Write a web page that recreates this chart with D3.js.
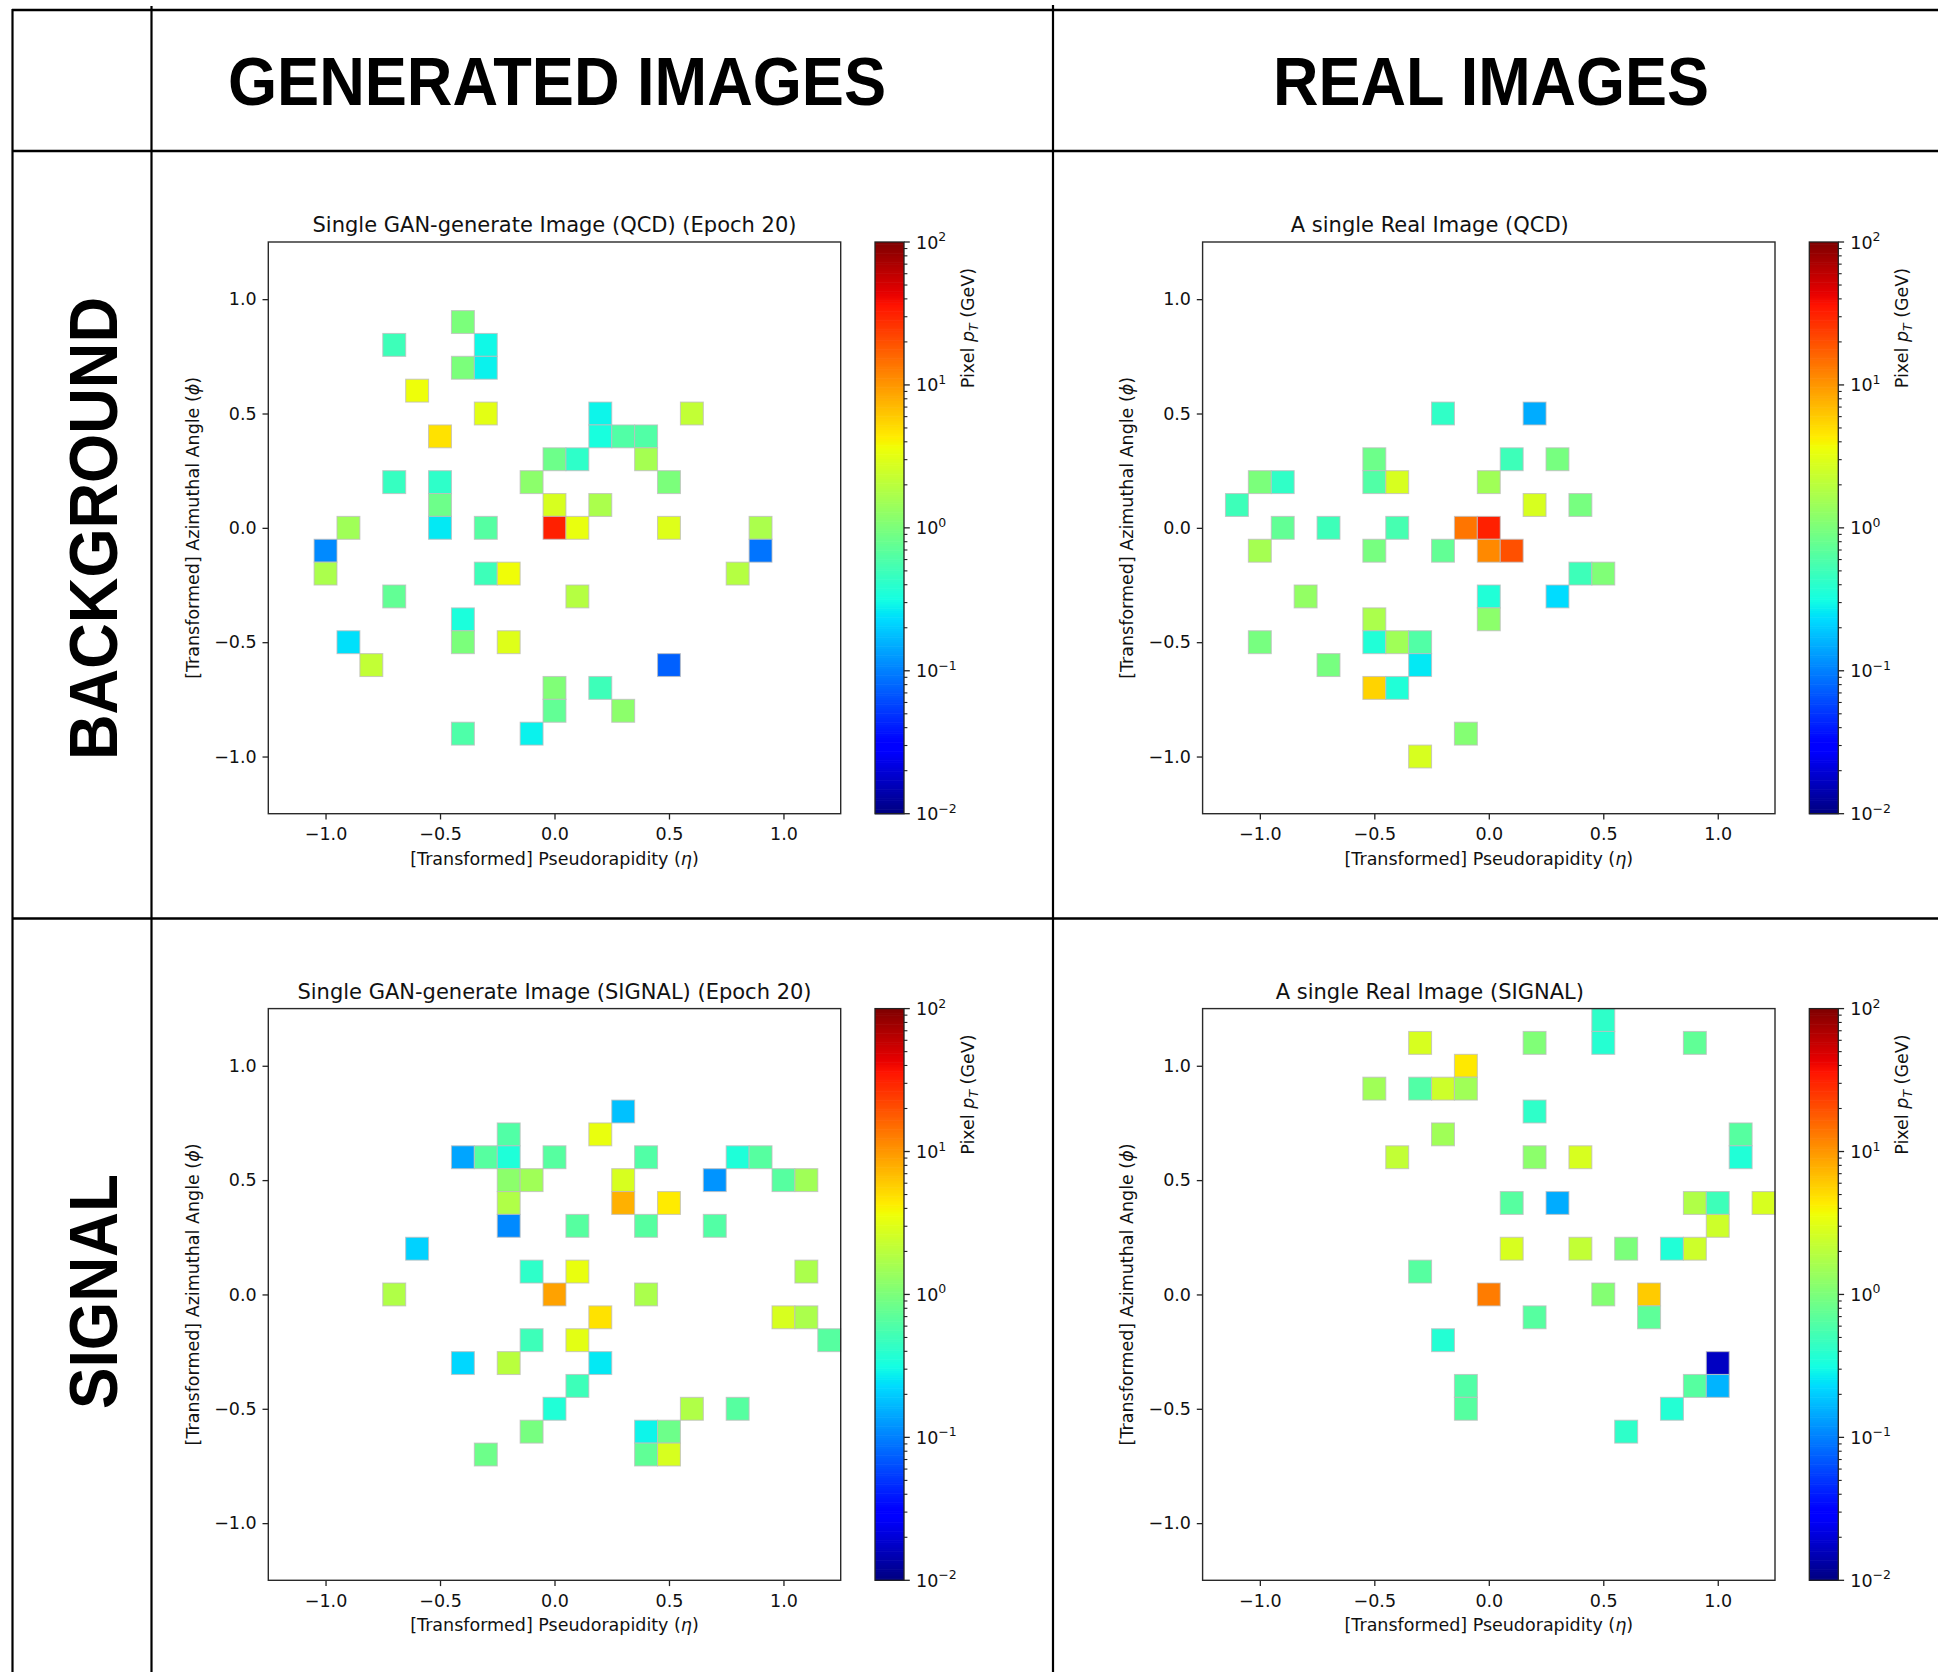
<!DOCTYPE html>
<html>
<head>
<meta charset="utf-8">
<script src="https://cdn.jsdelivr.net/npm/d3@7"></script>
<style>
  html, body { margin: 0; padding: 0; background: #fff; }
  svg { display: block; }
</style>
</head>
<body>
<svg id="fig" width="1938" height="1672"></svg>
<script>
// ---- Data: jet-image pixels as [eta, phi, pT (GeV)] ----
const ganQcd = [
  [-0.4, 0.9, 1.0], [-0.7, 0.8, 0.5], [-0.3, 0.8, 0.3], [-0.4, 0.7, 1.0], [-0.3, 0.7, 0.28],
  [-0.6, 0.6, 3.6], [-0.3, 0.5, 3.2], [0.6, 0.5, 2.2], [-0.5, 0.4, 4.8], [0.2, 0.5, 0.29],
  [0.2, 0.4, 0.33], [0.3, 0.4, 0.62], [0.4, 0.4, 0.62], [0.0, 0.3, 0.85], [0.1, 0.3, 0.42],
  [0.4, 0.3, 1.6], [-0.7, 0.2, 0.46], [-0.5, 0.2, 0.42], [-0.1, 0.2, 1.2], [0.5, 0.2, 1.0],
  [-0.5, 0.1, 0.85], [0.0, 0.1, 2.8], [0.2, 0.1, 1.7], [-0.9, 0.0, 1.5], [-0.5, 0.0, 0.26],
  [-0.3, 0.0, 0.65], [0.0, 0.0, 32], [0.1, 0.0, 3.4], [0.5, 0.0, 3.0], [0.9, 0.0, 1.7],
  [-1.0, -0.1, 0.11], [0.9, -0.1, 0.09], [-1.0, -0.2, 1.7], [-0.3, -0.2, 0.5], [-0.2, -0.2, 3.7],
  [0.8, -0.2, 1.9], [-0.7, -0.3, 0.75], [0.1, -0.3, 1.9], [-0.4, -0.4, 0.34], [-0.9, -0.5, 0.24],
  [-0.4, -0.5, 1.0], [-0.2, -0.5, 3.0], [-0.8, -0.6, 2.2], [0.5, -0.6, 0.075], [0.0, -0.7, 1.05],
  [0.2, -0.7, 0.5], [0.0, -0.8, 0.75], [0.3, -0.8, 1.2], [-0.4, -0.9, 0.6], [-0.1, -0.9, 0.28]
];

const realQcd = [
  [-0.2, 0.5, 0.43], [0.2, 0.5, 0.15], [-0.5, 0.3, 0.85], [0.1, 0.3, 0.5], [0.3, 0.3, 0.95],
  [-1.0, 0.2, 1.0], [-0.9, 0.2, 0.43], [-0.5, 0.2, 0.62], [-0.4, 0.2, 2.8], [0.0, 0.2, 1.5],
  [-1.1, 0.1, 0.5], [0.2, 0.1, 2.8], [0.4, 0.1, 0.95], [-0.9, 0.0, 0.75], [-0.7, 0.0, 0.5],
  [-0.4, 0.0, 0.55], [-0.1, 0.0, 14], [0.0, 0.0, 32], [-1.0, -0.1, 1.6], [-0.5, -0.1, 0.95],
  [-0.2, -0.1, 0.75], [0.0, -0.1, 11.5], [0.1, -0.1, 20], [0.4, -0.2, 0.5], [0.5, -0.2, 1.05],
  [-0.8, -0.3, 1.3], [0.0, -0.3, 0.36], [0.3, -0.3, 0.23], [-0.5, -0.4, 1.7], [0.0, -0.4, 1.2],
  [-1.0, -0.5, 0.95], [-0.5, -0.5, 0.36], [-0.4, -0.5, 1.5], [-0.3, -0.5, 0.62], [-0.7, -0.6, 0.95],
  [-0.3, -0.6, 0.26], [-0.5, -0.7, 5.6], [-0.4, -0.7, 0.36], [-0.1, -0.9, 1.1], [-0.3, -1.0, 2.8]
];

const ganSignal = [
  [0.3, 0.8, 0.18], [-0.2, 0.7, 0.62], [0.2, 0.7, 3.4], [-0.4, 0.6, 0.14], [-0.3, 0.6, 0.66],
  [-0.2, 0.6, 0.35], [0.0, 0.6, 0.66], [0.4, 0.6, 0.62], [0.8, 0.6, 0.35], [0.9, 0.6, 0.66],
  [-0.2, 0.5, 1.2], [-0.1, 0.5, 1.5], [0.3, 0.5, 2.8], [0.7, 0.5, 0.12], [1.0, 0.5, 0.66],
  [1.1, 0.5, 1.5], [-0.2, 0.4, 1.8], [0.3, 0.4, 7.8], [0.5, 0.4, 4.4], [-0.2, 0.3, 0.11],
  [0.1, 0.3, 0.66], [0.4, 0.3, 0.66], [0.7, 0.3, 0.63], [-0.6, 0.2, 0.21], [-0.1, 0.1, 0.42],
  [0.1, 0.1, 3.4], [1.1, 0.1, 1.7], [-0.7, 0.0, 1.8], [0.0, 0.0, 9], [0.4, 0.0, 1.7],
  [0.2, -0.1, 4.8], [1.0, -0.1, 2.8], [1.1, -0.1, 1.7], [-0.1, -0.2, 0.5], [0.1, -0.2, 3.2],
  [1.2, -0.2, 0.66], [-0.4, -0.3, 0.22], [-0.2, -0.3, 2.0], [0.2, -0.3, 0.26], [0.1, -0.4, 0.5],
  [0.0, -0.5, 0.36], [0.6, -0.5, 1.8], [0.8, -0.5, 0.66], [-0.1, -0.6, 0.95], [0.4, -0.6, 0.29],
  [0.5, -0.6, 0.85], [-0.3, -0.7, 0.85], [0.4, -0.7, 0.74], [0.5, -0.7, 2.8]
];

const realSignal = [
  [0.5, 1.2, 0.42], [0.5, 1.1, 0.38], [-0.3, 1.1, 2.8], [0.2, 1.1, 1.05], [0.9, 1.1, 0.74],
  [-0.1, 1.0, 4.5], [-0.5, 0.9, 1.5], [-0.3, 0.9, 0.62], [-0.2, 0.9, 2.5], [-0.1, 0.9, 1.5],
  [0.2, 0.8, 0.42], [-0.2, 0.7, 1.5], [1.1, 0.7, 0.66], [-0.4, 0.6, 2.2], [0.2, 0.6, 1.2],
  [0.4, 0.6, 2.8], [1.1, 0.6, 0.36], [0.1, 0.4, 0.66], [0.3, 0.4, 0.15], [0.9, 0.4, 1.8],
  [1.0, 0.4, 0.5], [1.2, 0.4, 2.8], [1.0, 0.3, 2.5], [0.1, 0.2, 2.8], [0.4, 0.2, 2.2],
  [0.6, 0.2, 1.0], [0.8, 0.2, 0.36], [0.9, 0.2, 2.5], [-0.3, 0.1, 0.66], [0.0, 0.0, 13],
  [0.5, 0.0, 1.1], [0.7, 0.0, 6], [0.2, -0.1, 0.66], [0.7, -0.1, 0.72], [-0.2, -0.2, 0.37],
  [1.0, -0.3, 0.017], [-0.1, -0.4, 0.62], [0.9, -0.4, 0.66], [1.0, -0.4, 0.16], [-0.1, -0.5, 0.66],
  [0.8, -0.5, 0.37], [0.6, -0.6, 0.42]
];

const columnTitles = ["GENERATED IMAGES", "REAL IMAGES"];
const rowTitles = ["BACKGROUND", "SIGNAL"];
const panelTitles = [
  ["Single GAN-generate Image (QCD) (Epoch 20)", "A single Real Image (QCD)"],
  ["Single GAN-generate Image (SIGNAL) (Epoch 20)", "A single Real Image (SIGNAL)"]
];
const panelData = [[ganQcd, realQcd], [ganSignal, realSignal]];
const axisTicks = [-1.0, -0.5, 0.0, 0.5, 1.0];
const cbarMajorTicks = [1e-2, 1e-1, 1e0, 1e1, 1e2];
const cbarExponents = ["−2", "−1", "0", "1", "2"];

// ---- Layout ----
const plotW = 572.4, plotH = 571.7;
const colLeft = [268.3, 1202.6];
const rowTop = [242, 1008.6];
const titleShift = [0, -59];
const cbOffset = 606.7, cbW = 29;
const cellHalf = 0.05;
const tickLen = 5.8;
const fontMain = "'DejaVu Sans', sans-serif";
const fontHead = "'Liberation Sans', Arial, Helvetica, sans-serif";

// matplotlib "jet" colormap built from its segment data
const jetR = d3.scaleLinear().domain([0, 0.35, 0.66, 0.89, 1]).range([0, 0, 1, 1, 0.5]).clamp(true);
const jetG = d3.scaleLinear().domain([0, 0.125, 0.375, 0.64, 0.91, 1]).range([0, 0, 1, 1, 0, 0]).clamp(true);
const jetB = d3.scaleLinear().domain([0, 0.11, 0.34, 0.65, 1]).range([0.5, 1, 1, 0, 0]).clamp(true);
const jet = t => d3.rgb(jetR(t) * 255, jetG(t) * 255, jetB(t) * 255).formatHex();
const norm = d3.scaleLog().domain([1e-2, 1e2]).range([0, 1]).clamp(true);
const colorOf = v => jet(norm(v));

const svg = d3.select("#fig");

// ---- Table grid ----
const grid = svg.append("g").attr("stroke", "#000").attr("fill", "none");
grid.append("line").attr("x1", 12).attr("x2", 1938).attr("y1", 10).attr("y2", 10).attr("stroke-width", 2.6);
grid.append("line").attr("x1", 12).attr("x2", 1938).attr("y1", 151).attr("y2", 151).attr("stroke-width", 2.4);
grid.append("line").attr("x1", 12).attr("x2", 1938).attr("y1", 918.5).attr("y2", 918.5).attr("stroke-width", 2.4);
grid.append("line").attr("x1", 12.5).attr("x2", 12.5).attr("y1", 9).attr("y2", 1672).attr("stroke-width", 2.2);
grid.append("line").attr("x1", 151.5).attr("x2", 151.5).attr("y1", 6).attr("y2", 1672).attr("stroke-width", 2.2);
grid.append("line").attr("x1", 1053).attr("x2", 1053).attr("y1", 5).attr("y2", 1672).attr("stroke-width", 2.2);

// ---- Header and row labels ----
const headPos = [{ cx: 557, len: 658 }, { cx: 1491, len: 436 }];
columnTitles.forEach((t, i) => {
  svg.append("text")
    .attr("x", headPos[i].cx).attr("y", 105)
    .attr("text-anchor", "middle")
    .attr("font-family", fontHead).attr("font-weight", "bold").attr("font-size", 69)
    .attr("textLength", headPos[i].len).attr("lengthAdjust", "spacingAndGlyphs")
    .text(t);
});
const rowPos = [{ cy: 528.5, len: 463 }, { cy: 1291.5, len: 235 }];
rowTitles.forEach((t, i) => {
  svg.append("text")
    .attr("transform", `translate(117,${rowPos[i].cy}) rotate(-90)`)
    .attr("text-anchor", "middle")
    .attr("font-family", fontHead).attr("font-weight", "bold").attr("font-size", 69)
    .attr("textLength", rowPos[i].len).attr("lengthAdjust", "spacingAndGlyphs")
    .text(t);
});

const fmtTick = v => d3.format(".1f")(v).replace("-", "−");

// ---- One heat-map panel with its colour bar ----
function drawPanel(r, c) {
  const data = panelData[r][c];
  const g = svg.append("g").attr("transform", `translate(${colLeft[c]},${rowTop[r]})`);
  const x = d3.scaleLinear().domain([-1.25, 1.25]).range([0, plotW]);
  const y = d3.scaleLinear().domain([-1.25, 1.25]).range([plotH, 0]);

  // pixels
  g.append("g").selectAll("rect").data(data).join("rect")
    .attr("x", d => x(d[0] - cellHalf))
    .attr("y", d => y(d[1] + cellHalf))
    .attr("width", d => x(d[0] + cellHalf) - x(d[0] - cellHalf))
    .attr("height", d => y(d[1] - cellHalf) - y(d[1] + cellHalf))
    .attr("fill", d => colorOf(d[2]))
    .attr("stroke", "#bdbdbd").attr("stroke-opacity", 0.75).attr("stroke-width", 1.1);

  // axes
  const xAxis = d3.axisBottom(x).tickValues(axisTicks).tickFormat(fmtTick).tickSize(tickLen).tickPadding(8.2);
  const yAxis = d3.axisLeft(y).tickValues(axisTicks).tickFormat(fmtTick).tickSize(tickLen).tickPadding(5.8);
  const gx = g.append("g").attr("transform", `translate(0,${plotH})`).call(xAxis);
  const gy = g.append("g").call(yAxis);
  [gx, gy].forEach(a => {
    a.select(".domain").remove();
    a.selectAll("line").attr("stroke", "#222").attr("stroke-width", 1.3);
    a.selectAll("text").attr("font-family", fontMain).attr("font-size", 17.5).attr("fill", "#111");
  });

  // frame
  g.append("rect").attr("x", 0).attr("y", 0).attr("width", plotW).attr("height", plotH)
    .attr("fill", "none").attr("stroke", "#2a2a2a").attr("stroke-width", 1.4);

  // title
  g.append("text").attr("x", plotW / 2 + titleShift[c]).attr("y", -10)
    .attr("text-anchor", "middle").attr("font-family", fontMain).attr("font-size", 21).attr("fill", "#111")
    .text(panelTitles[r][c]);

  // axis labels
  const xl = g.append("text").attr("x", plotW / 2).attr("y", plotH + 51)
    .attr("text-anchor", "middle").attr("font-family", fontMain).attr("font-size", 17.5).attr("fill", "#111");
  xl.append("tspan").text("[Transformed] Pseudorapidity (");
  xl.append("tspan").attr("font-style", "italic").text("η");
  xl.append("tspan").text(")");

  const yl = g.append("text").attr("transform", `translate(-69.5,${plotH / 2}) rotate(-90)`)
    .attr("text-anchor", "middle").attr("font-family", fontMain).attr("font-size", 17.5).attr("fill", "#111");
  yl.append("tspan").text("[Transformed] Azimuthal Angle (");
  yl.append("tspan").attr("font-style", "italic").text("ϕ");
  yl.append("tspan").text(")");

  // colour bar
  const cb = g.append("g").attr("transform", `translate(${cbOffset},0)`);
  const cy = d3.scaleLog().domain([1e-2, 1e2]).range([plotH, 0]);
  const steps = d3.range(256);
  cb.append("g").selectAll("rect").data(steps).join("rect")
    .attr("x", 0).attr("width", cbW)
    .attr("y", i => cy(Math.pow(10, -2 + 4 * (i + 1) / 256)))
    .attr("height", i => cy(Math.pow(10, -2 + 4 * i / 256)) - cy(Math.pow(10, -2 + 4 * (i + 1) / 256)) + 0.6)
    .attr("fill", i => jet((i + 0.5) / 256));
  cb.append("rect").attr("width", cbW).attr("height", plotH)
    .attr("fill", "none").attr("stroke", "#222").attr("stroke-width", 1.3);

  const minor = [];
  [-2, -1, 0, 1].forEach(e => d3.range(2, 10).forEach(m => minor.push(m * Math.pow(10, e))));
  cb.append("g").selectAll("line.minor").data(minor).join("line")
    .attr("x1", cbW).attr("x2", cbW + 3.4).attr("y1", d => cy(d)).attr("y2", d => cy(d))
    .attr("stroke", "#222").attr("stroke-width", 1.1);
  cb.append("g").selectAll("line.major").data(cbarMajorTicks).join("line")
    .attr("x1", cbW).attr("x2", cbW + tickLen).attr("y1", d => cy(d)).attr("y2", d => cy(d))
    .attr("stroke", "#222").attr("stroke-width", 1.3);
  cbarMajorTicks.forEach((v, i) => {
    const t = cb.append("text").attr("x", cbW + 12).attr("y", cy(v) + 6.5)
      .attr("font-family", fontMain).attr("font-size", 17.5).attr("fill", "#111");
    t.append("tspan").text("10");
    t.append("tspan").attr("font-size", 12.5).attr("dy", -7.5).text(cbarExponents[i]);
  });

  // colour-bar label
  const cl = cb.append("text").attr("transform", `translate(${cbW + 69.5},86) rotate(-90)`)
    .attr("text-anchor", "middle").attr("font-family", fontMain).attr("font-size", 17.5).attr("fill", "#111");
  cl.append("tspan").text("Pixel ");
  cl.append("tspan").attr("font-style", "italic").text("p");
  cl.append("tspan").attr("font-style", "italic").attr("font-size", 12.5).attr("dy", 4).text("T");
  cl.append("tspan").attr("dy", -4).text(" (GeV)");
}

[0, 1].forEach(r => [0, 1].forEach(c => drawPanel(r, c)));
</script>
</body>
</html>
